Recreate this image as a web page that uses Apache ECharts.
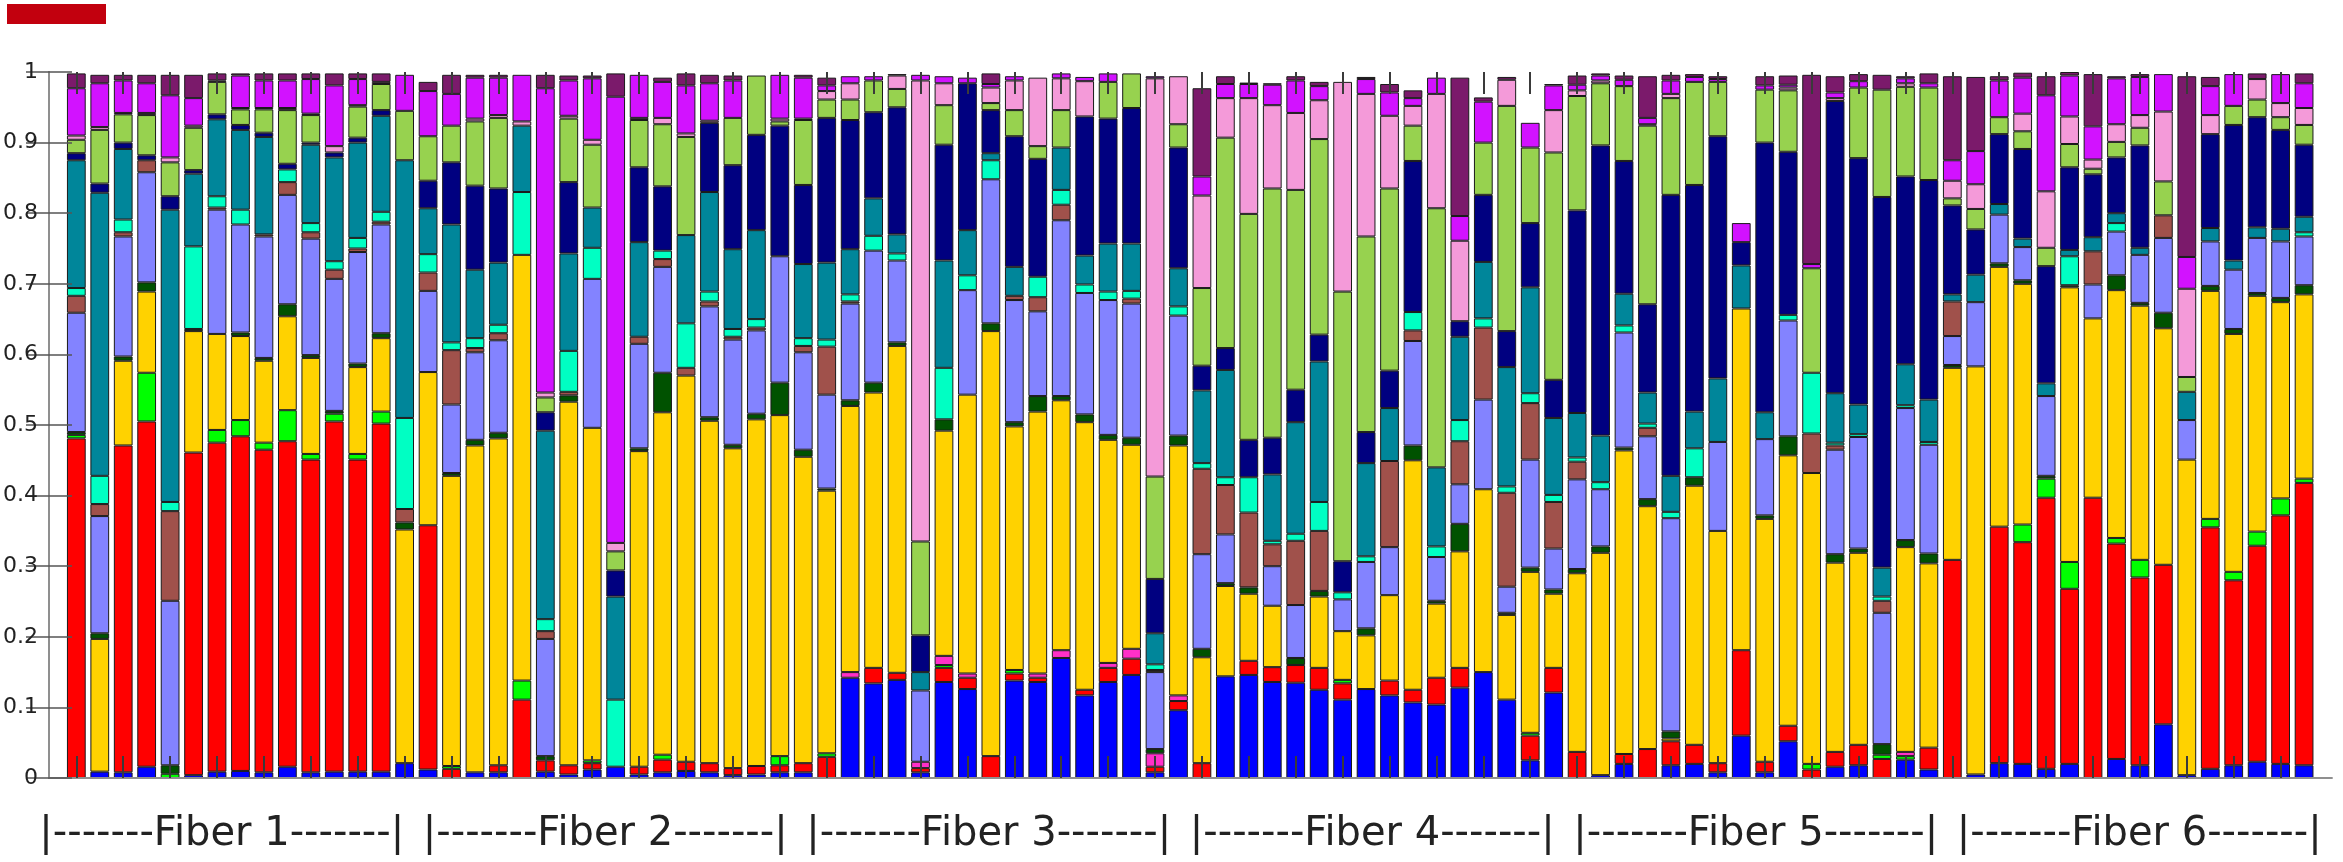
<!DOCTYPE html>
<html><head><meta charset="utf-8">
<script src="https://cdn.jsdelivr.net/npm/echarts@6/dist/echarts.min.js"></script>
<style>html,body{margin:0;padding:0;background:#fff}#c{width:2343px;height:862px}</style>
</head><body><div id="c"></div>
<script>
// 96 samples, 16 per fiber
const samples = Array.from({length: 96}, (_, i) => 'S' + (i + 1));
const fiberLabels = ['|-------Fiber 1-------|','|-------Fiber 2-------|','|-------Fiber 3-------|','|-------Fiber 4-------|','|-------Fiber 5-------|','|-------Fiber 6-------|'];

// segment fractions, stacked bottom -> top
const blue = [0,.009,.008,.016,0,.004,.009,.010,.008,.016,.008,.009,.009,.009,.021,.012,
  0,.008,.008,0,.009,.005,.012,.016,.005,.008,.010,.008,.004,.005,.008,.008,
  0,.142,.134,.139,.008,.136,.126,0,.138,.136,.170,.117,.136,.146,.008,.096,
  0,.144,.146,.136,.135,.125,.111,.126,.117,.107,.104,.128,.150,.111,.025,.121,
  0,.004,.020,0,.018,.020,.008,.060,.008,.052,0,.016,.018,0,.026,.012,
  0,.005,.021,.020,.013,.020,0,.027,.018,.076,.004,.013,.018,.023,.020,.018];
const red = [.481,0,.463,.489,0,.457,.466,.474,.457,.461,.443,.496,.442,.493,0,.346,
  .013,0,.010,.111,.016,.013,.009,0,.011,.018,.013,.013,.010,.012,.010,.013,
  .030,0,.022,.010,.006,.020,.016,.031,.010,.006,0,.008,.020,.023,.008,.013,
  .021,0,.020,.021,.025,.031,.023,0,.021,.018,.038,.028,0,0,.035,.035,
  .037,0,.014,.041,.034,.027,.013,.121,.015,.022,.012,.021,.029,.027,0,.031,
  .309,0,.335,.314,.384,.248,.397,.305,.266,.226,0,.342,.262,.306,.352,.400];
const green = [.005,0,0,.069,.006,0,.018,.023,.010,.044,.008,.011,.008,.017,0,0,
  .004,0,0,.027,0,0,.004,0,0,.007,0,0,0,0,.013,0,
  .005,0,0,0,0,.004,0,0,.005,0,0,0,0,0,0,0,
  0,0,0,0,0,0,.005,0,0,0,0,0,0,0,.004,0,
  0,0,0,0,0,0,0,0,0,0,.008,0,0,.006,.005,0,
  0,0,0,.025,.027,.038,0,.008,.025,0,0,.012,.012,.020,.024,.006];
const hotPink = [0,0,0,0,0,0,0,0,0,0,0,0,0,0,0,0,
  0,0,0,0,0,0,0,0,0,0,0,0,0,0,0,0,
  0,.008,0,0,.009,.013,.006,0,0,.006,.011,0,.007,.014,.019,.008,
  0,0,0,0,0,0,0,0,0,0,0,0,0,0,0,0,
  0,0,0,0,0,0,0,0,0,0,0,0,0,0,.006,0,
  0,0,0,0,0,0,0,0,0,0,0,0,0,0,0,0];
const yellow = [0,.188,.120,.115,0,.172,.136,.119,.116,.133,.136,0,.123,.104,.331,.217,
  .411,.463,.463,.603,0,.515,.471,0,.447,.485,.547,.485,.453,.491,.483,.434,
  .372,.377,.390,.463,0,.319,.395,.602,.345,.371,.354,.379,.316,.289,0,.354,
  .150,.128,.095,.087,0,.101,.069,.076,.121,.325,.105,.165,.259,.120,.228,.105,
  .253,.315,.430,.344,.004,.367,.329,.484,.344,.383,.412,.268,.272,0,.290,.261,
  .272,.578,.368,.341,0,.389,.254,.351,.360,.335,.447,.323,.337,.334,.278,.261];
const darkGreen = [.004,.008,.006,.013,.012,.003,0,.005,.004,.017,.004,.004,.005,.007,.010,0,
  .004,.008,.008,0,.006,.009,0,0,.004,.056,0,.005,.005,.008,.046,.010,
  .003,.008,.014,.005,0,.016,0,.011,.006,.022,.006,.011,.007,.010,.006,.014,
  .012,.004,.009,0,.010,.008,0,.010,0,.021,.004,.039,0,.003,.006,.006,
  .006,.009,.004,.010,.010,.012,0,0,.005,.027,0,.012,.006,.015,.010,.014,
  .004,0,.005,.005,.004,.003,0,.021,.004,.022,0,.007,.007,.004,.006,.013];
const periwinkle = [.169,.166,.170,.156,.233,0,.176,.153,.172,.155,.165,.187,.158,.154,0,.115,
  .097,.124,.131,0,.166,0,.211,0,.148,.150,0,.157,.149,.118,.179,.138,
  .133,.137,.187,.116,.101,0,.148,.204,.173,.120,.249,.172,.191,.190,.109,.170,
  .134,.069,0,.056,.075,0,.045,.094,.068,.148,.062,.056,.127,.037,.153,.058,
  .127,.081,.163,.089,.302,0,.126,0,.108,.164,0,.148,.158,.186,.187,.154,
  .041,.091,.069,.047,.113,0,.048,.062,.068,.106,.056,.063,.084,.078,.080,.069];
const brown = [.024,.017,.006,.017,.127,0,.003,0,.003,.018,.009,.013,.005,.004,.019,.026,
  .077,.006,.010,0,.011,.005,0,0,.010,.011,.011,.007,.004,.004,0,.009,
  .068,.003,0,0,0,0,0,0,.006,.020,.022,0,0,.007,.003,0,
  .121,.070,.106,.031,.091,.085,0,0,.122,.015,0,.061,.102,.133,.080,.066,
  .025,0,0,.012,0,0,0,0,0,0,.056,.006,0,.017,0,0,
  .049,0,0,0,0,0,.047,0,0,.032,0,0,0,0,0,0];
const aqua = [.011,.040,.018,0,.013,.117,.016,.021,0,.018,.013,.012,.015,.014,.129,.026,
  .011,.014,.012,.089,.017,.058,.044,.095,0,.012,.063,.014,.011,.012,0,.011,
  .010,.010,.021,.010,0,.073,.021,.027,0,.029,.021,.012,.012,.011,.008,.013,
  .008,.011,.050,.005,.010,.041,.010,.008,0,.026,.015,.030,.013,.009,.014,.010,
  .006,.010,.010,.006,.009,.041,0,0,0,.008,.086,.004,.004,.006,.004,.004,
  0,0,0,0,0,.041,0,.012,0,0,0,0,0,0,0,.006];
const teal = [.181,.401,.100,0,.414,.103,.109,.113,.138,0,.111,.147,.135,.136,.365,.065,
  .167,.097,.088,.094,.267,.138,.057,.146,.134,0,.125,.141,.113,.126,0,.105,
  .109,.064,.053,.027,.026,.152,.064,.010,.041,0,.060,.041,.068,.067,.044,.054,
  .103,.152,0,.094,.158,.199,0,.132,.075,0,.112,.118,.080,.169,.150,.109,
  .063,.066,.045,.044,.051,.052,.090,.061,.038,0,0,.070,.042,.041,.058,.060,
  .010,.039,.015,.012,.018,.009,.020,.014,.010,0,.040,.019,.013,.015,.018,.022];
const navy = [.010,.013,.009,.007,.019,.005,.007,.007,.006,.008,.003,.007,.007,.008,0,.039,
  .088,.119,.105,0,.026,.101,0,.037,.106,.091,0,.098,.119,.135,.185,.112,
  .205,.183,.122,.180,.052,.164,.208,.061,.185,.167,0,.197,.177,.192,.077,.171,
  .035,.031,.053,.052,.046,.038,.044,.044,.053,.214,0,.022,.095,.051,.091,.054,
  .287,.411,.188,.125,.398,.321,.343,.033,.382,.231,0,.414,.349,.525,.266,.311,
  .126,.064,.099,.127,.166,.117,.089,.079,.145,0,0,.133,.192,.156,.140,.102];
const lightGreen = [.019,.076,.040,.057,.048,.060,.046,.022,.033,.076,.039,0,.044,.037,.070,.063,
  .052,.091,.100,0,.021,.090,.089,.027,.067,.088,.139,0,.067,.084,.006,.092,
  .026,.029,.045,.026,.133,.056,0,.010,.037,.018,.053,0,.052,.049,.145,.033,
  .110,.298,.320,.353,.283,.277,.382,.277,.258,.050,.367,0,.074,.319,.107,.322,
  .162,.088,.106,.253,.137,.146,.077,0,.075,.087,.148,0,.100,.152,.127,.131,
  .010,.029,.024,.025,.026,.033,.008,.022,.025,.048,.021,0,.027,.025,.018,.028];
const pink = [.006,.004,.002,.003,.007,.003,.002,.002,.002,.003,.002,.009,.002,.003,0,0,
  0,.004,.004,.006,.007,.004,.007,.012,.003,.009,.005,.003,0,0,.004,.002,
  .012,.023,0,.019,.653,.031,0,.022,.042,.097,.045,.050,0,0,.564,.068,
  .131,.056,.164,.118,.109,.055,.297,.202,.103,.028,.162,.114,0,.037,0,.060,
  .008,.004,0,.002,.006,0,0,0,0,.004,0,.004,0,0,.005,0,
  .025,.035,0,.025,.080,.039,.013,.025,.018,.099,.125,.027,0,.029,.020,.024];
const magenta = [.067,.062,.046,.042,.088,.039,0,.046,.039,.039,.049,.086,.037,0,.051,.064,
  .045,.058,.053,.066,.431,.050,.087,.632,.061,.051,.068,.053,.053,0,.062,.058,
  .008,.010,.006,0,.008,.010,.008,.005,.006,0,.007,.006,.012,0,.003,0,
  .027,.020,.020,.029,.046,.020,0,.021,.033,.011,.023,.035,.058,0,.035,.035,
  .008,.007,.009,.009,.019,.007,.004,.027,.006,.004,.006,.008,.009,0,.007,.006,
  .029,.047,.052,.051,.136,.058,.047,.065,.054,.053,.045,.041,.045,0,.041,.035];
const plum = [.021,.012,.008,.012,.029,.033,.010,.003,.010,.010,.008,.017,.008,.012,0,.013,
  .027,.004,.004,0,.019,.007,.004,.033,0,.006,.017,.012,.007,0,0,.004,
  .011,0,0,.002,0,0,0,.015,0,0,0,0,0,0,0,0,
  .125,.011,.002,.002,.006,.006,0,.003,.012,.011,0,.196,.006,.004,0,.002,
  .013,.003,.006,.059,.008,.004,.004,0,.013,.013,.268,.023,.010,.021,.003,.014,
  .119,.105,.006,.007,.027,.005,.074,.003,.004,0,.256,.013,0,.008,0,.014];

const layers = [blue, red, green, hotPink, yellow, darkGreen, periwinkle, brown, aqua, teal, navy, lightGreen, pink, magenta, plum];
const layerColors = ['#0000ff','#ff0000','#00ff00','#ff30c8','#ffd200','#005200','#8383ff','#a0514b','#00ffc3','#00869a','#000080','#97d24f','#f49ad9','#d212ff','#7b1a6b'];

const chart = echarts.init(document.getElementById('c'), null, {renderer: 'canvas'});
const frameColor = '#8f8f8f';
const tickStyle = {color: '#3a3a3a', width: 2};
chart.setOption({
  animation: false,
  backgroundColor: '#ffffff',
  graphic: [{type: 'rect', left: 7, top: 4, shape: {width: 99, height: 20}, style: {fill: '#c2000e'}}],
  grid: [
    {left: 48.3, right: 11.3, top: 72, bottom: 84},
    {left: 64.6, right: 27.2, top: 72, bottom: 84},
    {left: 30, right: 12, top: 72, bottom: 84}
  ],
  xAxis: [
    {gridIndex: 0, type: 'value', min: 0, max: 1, position: 'bottom', z: 6,
     axisLine: {show: true, lineStyle: {color: frameColor, width: 2}}, axisTick: {show: false}, axisLabel: {show: false}, splitLine: {show: false}},
    {gridIndex: 0, type: 'value', min: 0, max: 1, position: 'top', z: 6,
     axisLine: {show: true, lineStyle: {color: frameColor, width: 2}}, axisTick: {show: false}, axisLabel: {show: false}, splitLine: {show: false}},
    {gridIndex: 1, type: 'category', data: samples, position: 'bottom', z: 8,
     axisLine: {show: false}, axisTick: {show: true, inside: true, length: 22, alignWithLabel: true, lineStyle: tickStyle},
     axisLabel: {show: false}, splitLine: {show: false}},
    {gridIndex: 1, type: 'category', data: samples, position: 'top', z: 8,
     axisLine: {show: false}, axisTick: {show: true, inside: true, length: 22, alignWithLabel: true, lineStyle: tickStyle},
     axisLabel: {show: false}, splitLine: {show: false}},
    {gridIndex: 2, type: 'category', data: fiberLabels, position: 'bottom',
     axisLine: {show: false}, axisTick: {show: false}, splitLine: {show: false},
     axisLabel: {show: true, interval: 0, fontFamily: 'DejaVu Sans', fontSize: 40, color: '#222222', margin: 57, verticalAlign: 'middle'}}
  ],
  yAxis: [
    {gridIndex: 0, type: 'value', min: 0, max: 1, interval: 0.1, position: 'left', z: 6,
     axisLine: {show: true, lineStyle: {color: frameColor, width: 2}},
     axisTick: {show: true, inside: true, length: 23, lineStyle: {color: '#555555', width: 1.5}},
     axisLabel: {show: true, fontFamily: 'DejaVu Sans', fontSize: 22, color: '#222222', margin: 11},
     splitLine: {show: false}},
    {gridIndex: 0, type: 'value', min: 0, max: 1, interval: 0.1, position: 'right', z: 6,
     axisLine: {show: true, lineStyle: {color: frameColor, width: 2}},
     axisTick: {show: true, inside: true, length: 23, lineStyle: {color: '#555555', width: 1.5}},
     axisLabel: {show: false}, splitLine: {show: false}},
    {gridIndex: 1, type: 'value', min: 0, max: 1, show: false},
    {gridIndex: 2, type: 'value', min: 0, max: 1, show: false}
  ],
  series: layers.map((d, i) => ({
    type: 'bar', stack: 'all', xAxisIndex: 2, yAxisIndex: 2,
    barWidth: '80%',
    data: d.map(v => (v === 0 ? '-' : v)),
    itemStyle: {color: layerColors[i], borderColor: '#1a1a1a', borderWidth: 1}
  }))
});
</script>
</body></html>
